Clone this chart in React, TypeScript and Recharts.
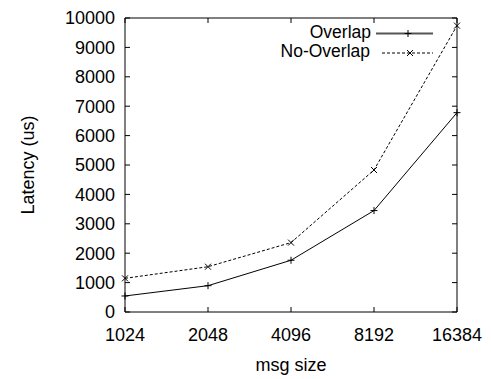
import React from 'react';
import { LineChart, Line, XAxis, YAxis, ReferenceArea } from 'recharts';

const sizes = ['1024', '2048', '4096', '8192', '16384'];
const overlap = [545, 895, 1760, 3450, 6780];
const noOverlap = [1145, 1540, 2360, 4830, 9740];
const yTicks = [0, 1000, 2000, 3000, 4000, 5000, 6000, 7000, 8000, 9000, 10000];
const seriesNames = ['Overlap', 'No-Overlap'];

const data = sizes.map((size, i) => ({ size, overlap: overlap[i], noOverlap: noOverlap[i] }));

const W = 491;
const H = 379;
const LEFT = 125;
const RIGHT = 457;
const TOP = 18;
const BOTTOM = 312;
const TICK = 5;
const FONT = '"Liberation Sans", Arial, Helvetica, sans-serif';
const FS = 18;

const YTick = (props: any) => {
  const { y, payload } = props;
  return (
    <g>
      <line x1={LEFT} x2={LEFT + TICK} y1={y} y2={y} stroke="#000" />
      <line x1={RIGHT - TICK} x2={RIGHT} y1={y} y2={y} stroke="#000" />
      <text x={LEFT - 10} y={y} dy="0.36em" textAnchor="end" fontFamily={FONT} fontSize={FS} fill="#000">
        {payload.value}
      </text>
    </g>
  );
};

const XTick = (props: any) => {
  const { x, payload } = props;
  return (
    <g>
      <line x1={x} x2={x} y1={BOTTOM} y2={BOTTOM - TICK} stroke="#000" />
      <line x1={x} x2={x} y1={TOP} y2={TOP + TICK} stroke="#000" />
      <text x={x} y={BOTTOM + 23} dy="0.36em" textAnchor="middle" fontFamily={FONT} fontSize={FS} fill="#000">
        {payload.value}
      </text>
    </g>
  );
};

const PlusDot = (props: any) => {
  const { cx, cy } = props;
  if (cx == null || cy == null) return null;
  return (
    <g stroke="#000" strokeWidth={1}>
      <line x1={cx - 3.5} x2={cx + 3.5} y1={cy} y2={cy} />
      <line x1={cx} x2={cx} y1={cy - 3.5} y2={cy + 3.5} />
    </g>
  );
};

const CrossDot = (props: any) => {
  const { cx, cy } = props;
  if (cx == null || cy == null) return null;
  return (
    <g stroke="#000" strokeWidth={1}>
      <line x1={cx - 3} x2={cx + 3} y1={cy - 3} y2={cy + 3} />
      <line x1={cx - 3} x2={cx + 3} y1={cy + 3} y2={cy - 3} />
    </g>
  );
};

// gnuplot-style key in the top-right corner
const KeyBox = () => (
  <g fontFamily={FONT} fontSize={17.5} fill="#000">
    <text x={371} y={38} textAnchor="end">{seriesNames[0]}</text>
    <line x1={376} x2={433} y1={33.5} y2={33.5} stroke="#555" strokeWidth={2} />
    <PlusDot cx={408} cy={33.5} />
    <text x={370} y={57} textAnchor="end">{seriesNames[1]}</text>
    <line x1={382} x2={433} y1={53} y2={53} stroke="#000" strokeDasharray="3 2" />
    <CrossDot cx={410} cy={53} />
  </g>
);

export default function App() {
  return (
    <div style={{ position: 'absolute', left: 0, top: 0, width: W, height: H, background: '#fff' }}>
      <LineChart width={W} height={H} data={data} margin={{ top: TOP, right: W - RIGHT, left: 0, bottom: 0 }}>
        <XAxis
          dataKey="size"
          height={H - BOTTOM}
          interval={0}
          axisLine={false}
          tickLine={false}
          tick={<XTick />}
          label={{ value: 'msg size', position: 'insideBottom', offset: 8, fill: '#000', fontSize: FS, fontFamily: FONT }}
        />
        <YAxis
          width={LEFT}
          domain={[0, 10000]}
          ticks={yTicks}
          interval={0}
          axisLine={false}
          tickLine={false}
          tick={<YTick />}
          label={{
            value: 'Latency (us)',
            angle: -90,
            position: 'insideLeft',
            offset: 28,
            fill: '#000',
            fontSize: FS,
            fontFamily: FONT,
            style: { textAnchor: 'middle' },
          }}
        />
        <ReferenceArea x1={sizes[0]} x2={sizes[sizes.length - 1]} y1={0} y2={10000} fill="none" stroke="#000" strokeWidth={1} ifOverflow="visible" />
        <Line
          type="linear"
          dataKey="overlap"
          name={seriesNames[0]}
          stroke="#000"
          strokeWidth={1}
          dot={<PlusDot />}
          activeDot={false}
          isAnimationActive={false}
        />
        <Line
          type="linear"
          dataKey="noOverlap"
          name={seriesNames[1]}
          stroke="#000"
          strokeWidth={1}
          strokeDasharray="3 2"
          dot={<CrossDot />}
          activeDot={false}
          isAnimationActive={false}
        />
        <KeyBox />
      </LineChart>
    </div>
  );
}
